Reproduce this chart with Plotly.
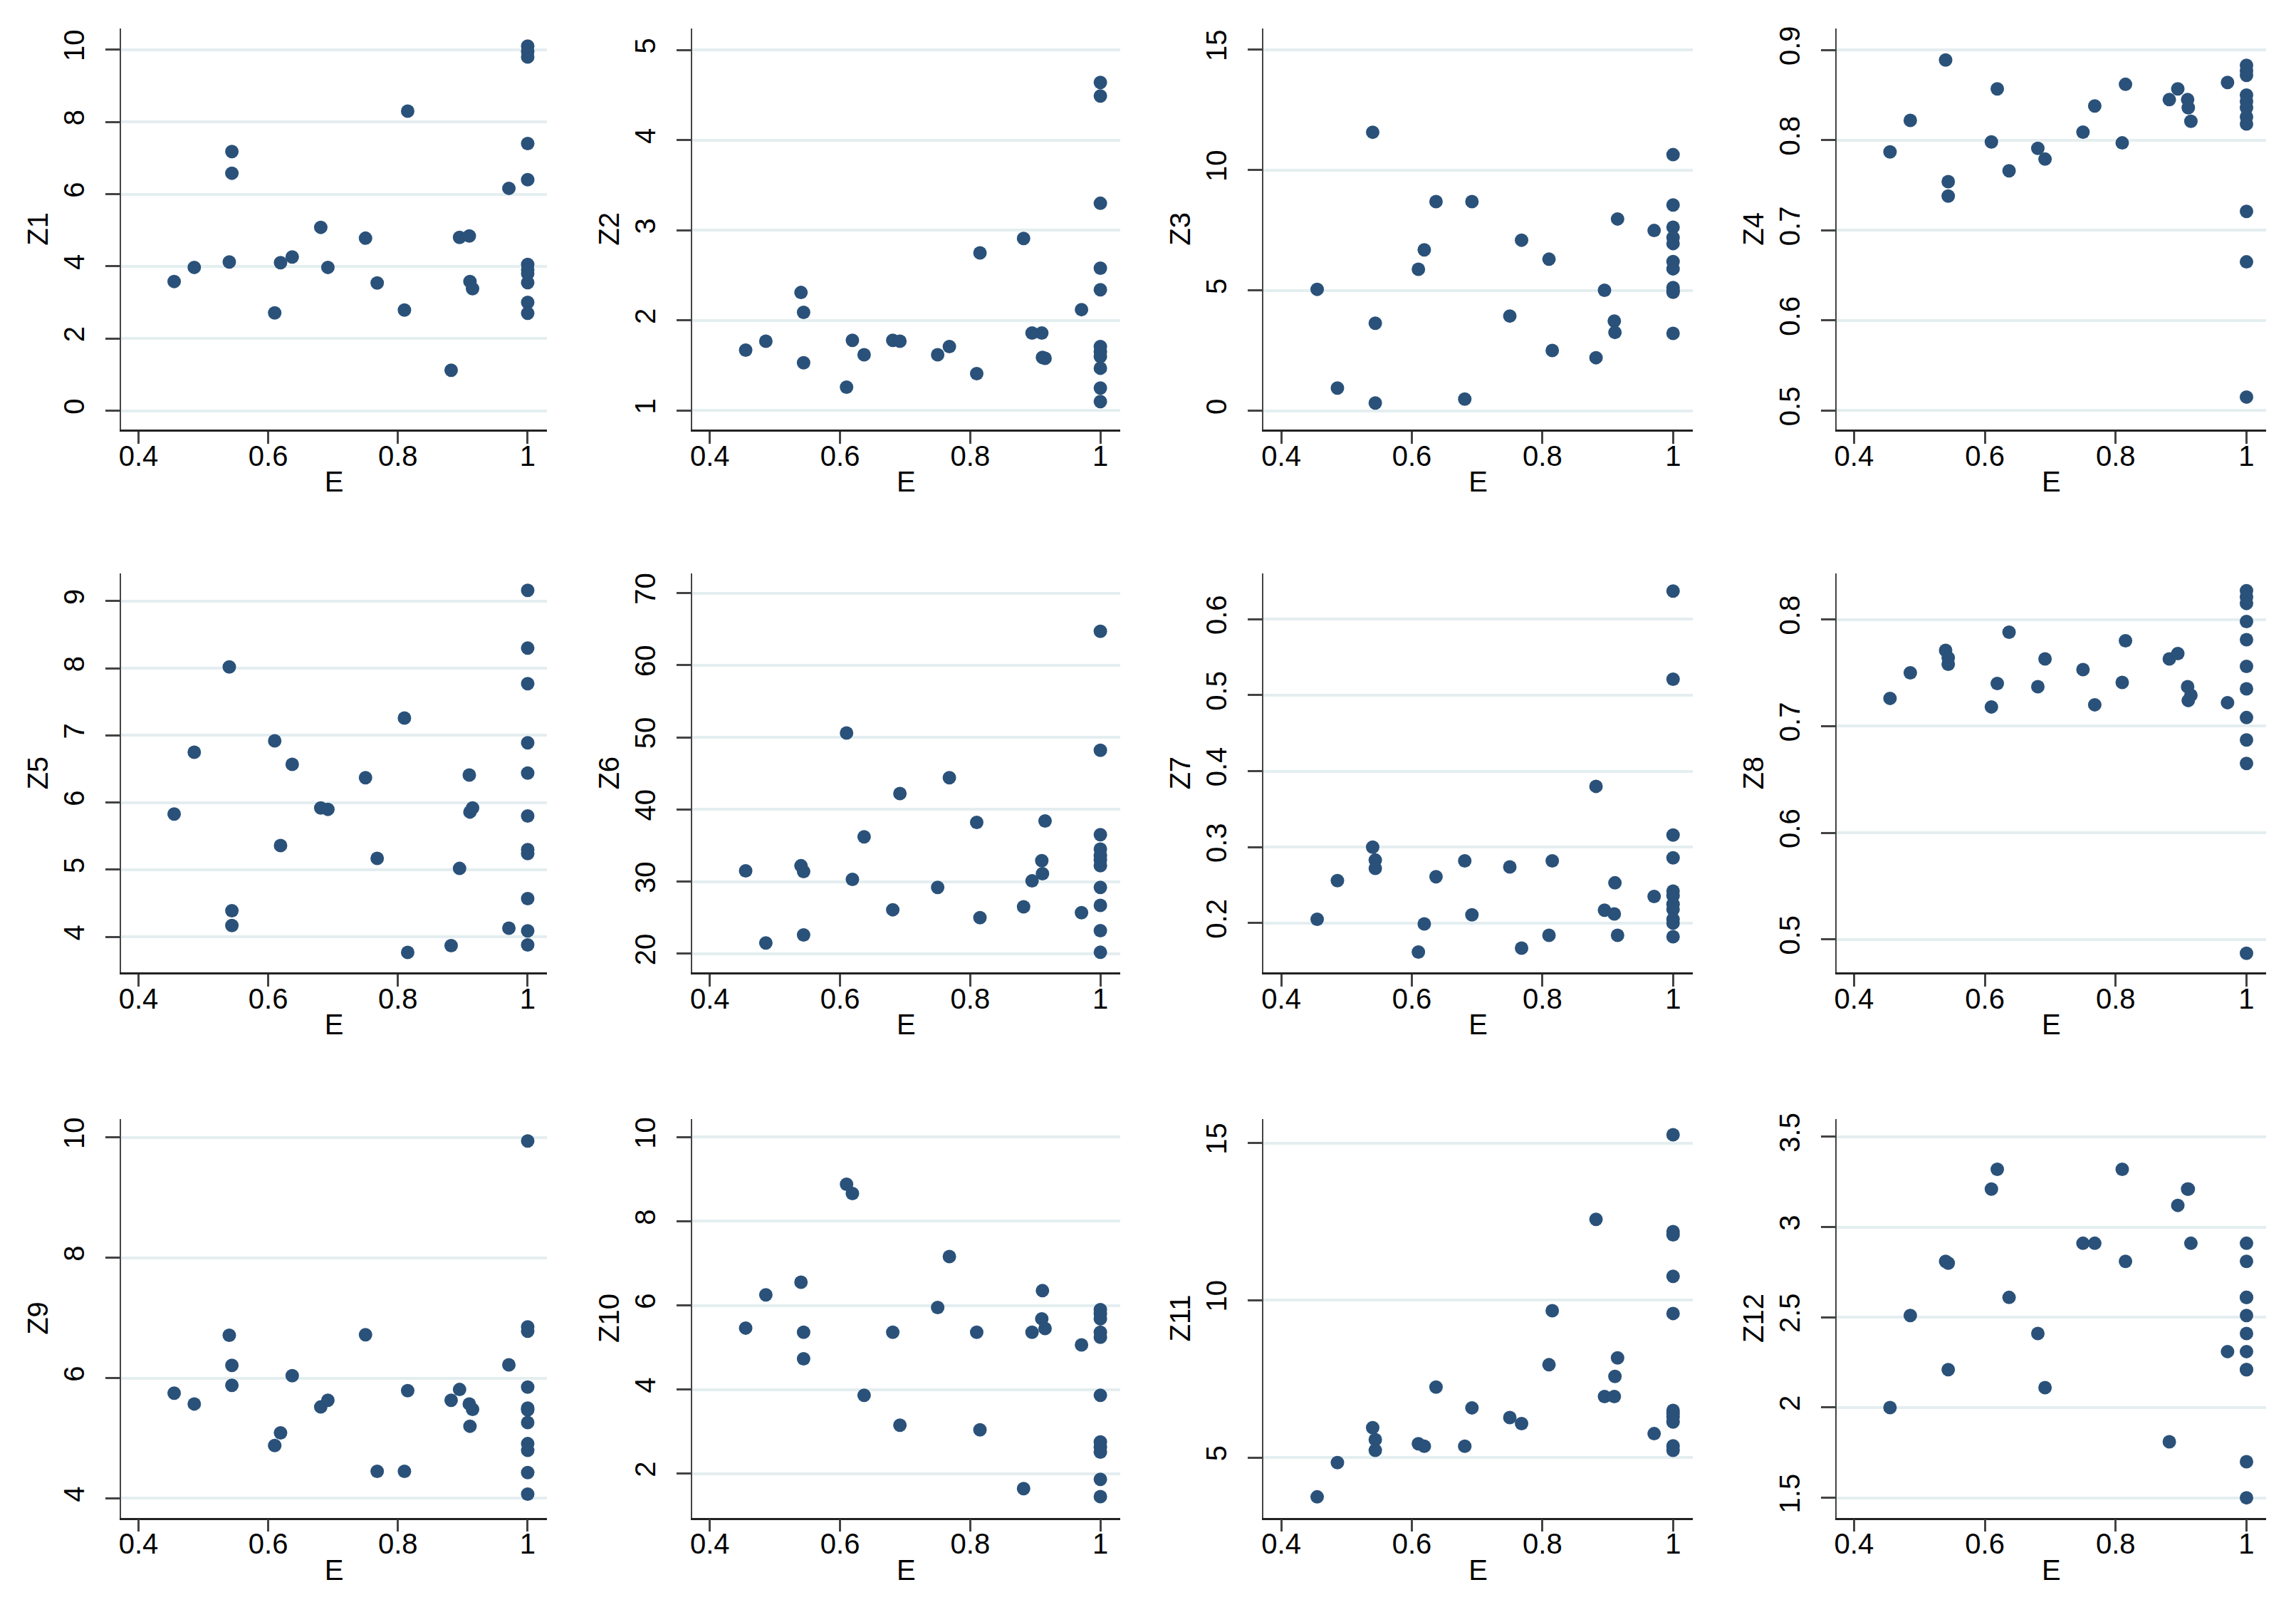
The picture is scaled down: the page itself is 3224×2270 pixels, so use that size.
import plotly.graph_objects as go

# efficiency score shared by all panels (31 observations)
E = [0.455, 0.486, 0.540, 0.544, 0.544, 0.610, 0.619, 0.637, 0.681, 0.692,
     0.750, 0.768, 0.810, 0.815, 0.882, 0.895, 0.910, 0.911, 0.915, 0.971,
     1, 1, 1, 1, 1, 1, 1, 1, 1, 1, 1]

Z1 = [3.58, 3.97, 4.12, 7.18, 6.58, 2.71, 4.10, 4.26, 5.08, 3.97, 4.78, 3.54, 2.79, 8.30, 1.12, 4.80,
      4.84, 3.58, 3.38, 6.16, 10.1, 9.95, 9.8, 7.4, 6.4, 4.05, 3.9, 3.8, 3.55, 3.0, 2.7]
Z2 = [1.67, 1.77, 2.31, 2.09, 1.53, 1.26, 1.78, 1.62, 1.78, 1.77, 1.62, 1.71, 1.41, 2.75, 2.91, 1.86,
      1.86, 1.59, 1.58, 2.12, 4.64, 4.49, 3.30, 2.58, 2.34, 1.71, 1.65, 1.60, 1.47, 1.25, 1.10]
Z3 = [5.05, 0.95, 11.57, 3.64, 0.33, 5.88, 6.69, 8.69, 0.49, 8.69, 3.94, 7.09, 6.30, 2.51, 2.21, 5.01,
      3.73, 3.26, 7.97, 7.49, 10.64, 8.55, 7.63, 7.2, 6.95, 6.20, 5.90, 5.12, 5.0, 4.93, 3.22]
Z4 = [0.787, 0.822, 0.889, 0.754, 0.738, 0.798, 0.857, 0.766, 0.791, 0.779, 0.809, 0.838, 0.797, 0.862,
      0.845, 0.857, 0.845, 0.836, 0.821, 0.864, 0.883, 0.877, 0.872, 0.850, 0.843, 0.836, 0.826, 0.818,
      0.721, 0.665, 0.515]
Z5 = [5.83, 6.75, 8.02, 4.39, 4.17, 6.92, 5.36, 6.57, 5.92, 5.90, 6.37, 5.17, 7.26, 3.77, 3.87, 5.02,
      6.41, 5.86, 5.92, 4.13, 9.16, 8.30, 7.77, 6.89, 6.44, 5.80, 5.30, 5.24, 4.57, 4.09, 3.88]
Z6 = [31.5, 21.5, 32.2, 31.4, 22.6, 50.6, 30.3, 36.2, 26.1, 42.2, 29.2, 44.4, 38.2, 25.0, 26.5, 30.1,
      32.9, 31.1, 38.4, 25.7, 64.7, 48.2, 36.5, 34.5, 33.6, 33.0, 32.2, 29.2, 26.7, 23.2, 20.2]
Z7 = [0.205, 0.256, 0.300, 0.283, 0.272, 0.162, 0.199, 0.261, 0.282, 0.211, 0.274, 0.167, 0.184, 0.282,
      0.380, 0.217, 0.212, 0.253, 0.184, 0.235, 0.637, 0.521, 0.316, 0.286, 0.242, 0.236, 0.225, 0.218,
      0.205, 0.200, 0.182]
Z8 = [0.726, 0.750, 0.771, 0.764, 0.758, 0.718, 0.740, 0.788, 0.737, 0.763, 0.753, 0.720, 0.741, 0.780,
      0.763, 0.768, 0.737, 0.724, 0.729, 0.722, 0.827, 0.821, 0.815, 0.798, 0.781, 0.756, 0.735, 0.708,
      0.687, 0.665, 0.487]
Z9 = [5.75, 5.57, 6.71, 6.21, 5.88, 4.88, 5.09, 6.04, 5.52, 5.63, 6.72, 4.45, 4.45, 5.79, 5.63, 5.81,
      5.57, 5.20, 5.48, 6.22, 9.94, 6.85, 6.78, 5.85, 5.50, 5.47, 5.26, 4.91, 4.80, 4.43, 4.07]
Z10 = [5.46, 6.25, 6.55, 5.36, 4.73, 8.88, 8.66, 3.86, 5.36, 3.15, 5.95, 7.16, 5.36, 3.04, 1.64, 5.36,
       5.68, 6.35, 5.45, 5.06, 5.90, 5.80, 5.68, 5.36, 5.24, 3.86, 2.75, 2.63, 2.51, 1.86, 1.45]
Z11 = [3.75, 4.84, 5.95, 5.57, 5.23, 5.44, 5.36, 7.24, 5.36, 6.58, 6.27, 6.08, 7.95, 9.67, 12.57, 6.94,
       6.94, 7.58, 8.17, 5.76, 15.26, 12.18, 12.08, 10.76, 9.58, 6.50, 6.40, 6.29, 6.13, 5.37, 5.23]
Z12 = [2.00, 2.51, 2.81, 2.80, 2.21, 3.21, 3.32, 2.61, 2.41, 2.11, 2.91, 2.91, 3.32, 2.81, 1.81, 3.12,
       3.21, 3.21, 2.91, 2.31, 2.91, 2.81, 2.61, 2.51, 2.41, 2.31, 2.21, 2.21, 1.70, 1.50, 2.61]

names = ["Z1", "Z2", "Z3", "Z4", "Z5", "Z6", "Z7", "Z8", "Z9", "Z10", "Z11", "Z12"]
series = [Z1, Z2, Z3, Z4, Z5, Z6, Z7, Z8, Z9, Z10, Z11, Z12]

x_ticks = [0.4, 0.6, 0.8, 1]
y_ticks = [
    [0, 2, 4, 6, 8, 10], [1, 2, 3, 4, 5], [0, 5, 10, 15], [0.5, 0.6, 0.7, 0.8, 0.9],
    [4, 5, 6, 7, 8, 9], [20, 30, 40, 50, 60, 70], [0.2, 0.3, 0.4, 0.5, 0.6], [0.5, 0.6, 0.7, 0.8],
    [4, 6, 8, 10], [2, 4, 6, 8, 10], [5, 10, 15], [1.5, 2, 2.5, 3, 3.5],
]
y_ranges = [
    [-0.52, 10.59], [0.79, 5.24], [-0.77, 15.88], [0.479, 0.924],
    [3.47, 9.41], [17.4, 72.7], [0.135, 0.66], [0.469, 0.843],
    [3.68, 10.31], [0.95, 10.44], [3.09, 15.77], [1.39, 3.60],
]

W, H = 3224, 2270
# plot-area edges in pixels
col_px = [(159, 758), (962, 1563), (1765, 2368), (2570, 3174)]
row_px = [(24, 589), (792, 1354), (1560, 2122)]

DOT = "#2a5179"
GRID = "#e4eef0"
FONT = "Liberation Sans, Arial, sans-serif"
FS = 40

fig = go.Figure()

for i, (name, vals) in enumerate(zip(names, series)):
    r, c = divmod(i, 4)
    k = "" if i == 0 else str(i + 1)
    fig.add_trace(go.Scatter(
        x=E, y=vals, mode="markers", xaxis="x" + k, yaxis="y" + k,
        marker=dict(color=DOT, size=19, line=dict(width=0)),
        showlegend=False, hoverinfo="x+y",
    ))
    x0, x1 = col_px[c]
    y0, y1 = row_px[r]
    fig.layout["xaxis" + k] = dict(
        domain=[x0 / W, x1 / W], anchor="y" + k, range=[0.373, 1.03],
        tickvals=x_ticks, ticks="outside", ticklen=17, tickwidth=2.5, tickcolor="#444",
        showline=True, linecolor="#222", linewidth=2.5, showgrid=False, zeroline=False,
        tickfont=dict(size=FS, color="#000", family=FONT), ticklabelstandoff=-17,
        title=dict(text="E", font=dict(size=FS, color="#000", family=FONT), standoff=2),
    )
    fig.layout["yaxis" + k] = dict(
        domain=[1 - y1 / H, 1 - y0 / H], anchor="x" + k, range=y_ranges[i],
        tickvals=y_ticks[i], ticks="outside", ticklen=20, tickwidth=2.5, tickcolor="#444",
        showline=True, linecolor="#444", linewidth=2, showgrid=True, gridcolor=GRID,
        gridwidth=4, zeroline=False, tickangle=-90,
        tickfont=dict(size=FS, color="#000", family=FONT), ticklabelstandoff=14,
        title=dict(text=name, font=dict(size=FS, color="#000", family=FONT), standoff=2),
    )

fig.update_layout(
    width=W, height=H, margin=dict(l=0, r=0, t=0, b=0),
    paper_bgcolor="white", plot_bgcolor="white",
)

fig.write_html("out.html")
